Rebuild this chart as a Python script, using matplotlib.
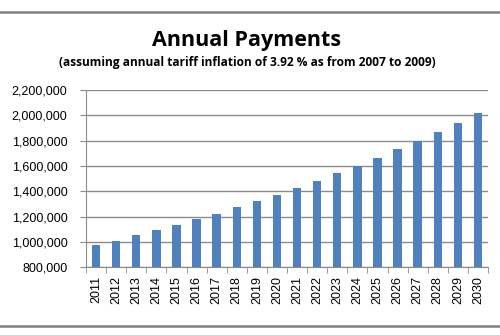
import numpy as np
import matplotlib
matplotlib.use("Agg")
from matplotlib import pyplot as plt
from matplotlib.lines import Line2D
from matplotlib.ticker import FuncFormatter, FixedLocator

years = [str(y) for y in range(2011, 2031)]
payments = [974000, 1010000, 1053000, 1095000, 1134000, 1179000, 1224000, 1274000,
            1322000, 1374000, 1429000, 1485000, 1543000, 1601000, 1666000, 1733000,
            1798000, 1870000, 1943000, 2020000]

bar_color = "#4F81BD"
line_gray = "#8c8c8c"

fig = plt.figure(figsize=(5.0, 3.35), dpi=100)
ax = fig.add_axes([0.172, 0.202, 0.804, 0.529])

x = np.arange(len(years))
ax.bar(x, payments, width=0.42, color=bar_color, zorder=3)

ax.set_xlim(-0.5, len(years) - 0.5)
ax.set_ylim(800000, 2200000)
ax.set_yticks(np.arange(800000, 2200001, 200000))
ax.yaxis.set_major_formatter(FuncFormatter(lambda v, p: f"{int(v):,}"))
ax.grid(axis="y", color=line_gray, linewidth=1.0, zorder=0)

# x ticks sit between categories, labels centred on bars
ax.set_xticks(x)
ax.set_xticklabels(years, rotation=90, fontsize=9, family="Liberation Sans")
ax.tick_params(axis="x", length=0, pad=6)
ax.xaxis.set_minor_locator(FixedLocator(np.arange(-0.5, len(years), 1.0)))
ax.tick_params(axis="x", which="minor", length=4, color=line_gray, direction="out")
ax.tick_params(axis="y", length=4.3, color=line_gray, labelsize=9, pad=9)
for lab in ax.get_yticklabels():
    lab.set_family("Liberation Sans")

for side in ["top", "right"]:
    ax.spines[side].set_visible(False)
ax.spines["left"].set_color(line_gray)
ax.spines["bottom"].set_color(line_gray)

fig.text(0.494, 0.880, "Annual Payments", ha="center", va="center",
         fontsize=15.5, fontweight="bold", family="Open Sans")
fig.text(0.494, 0.812, "(assuming annual tariff inflation of 3.92 % as from 2007 to 2009)",
         ha="center", va="center", fontsize=8.6, fontweight="bold", family="Open Sans")

# frame lines at top and bottom of the chart area
fig.add_artist(Line2D([0, 1], [1 - 12 / 335, 1 - 12 / 335], color="#7f7f7f", linewidth=1.8))
fig.add_artist(Line2D([0, 1], [1 - 326 / 335, 1 - 326 / 335], color="#7f7f7f", linewidth=1.8))

fig.savefig("out.png", dpi=100)
